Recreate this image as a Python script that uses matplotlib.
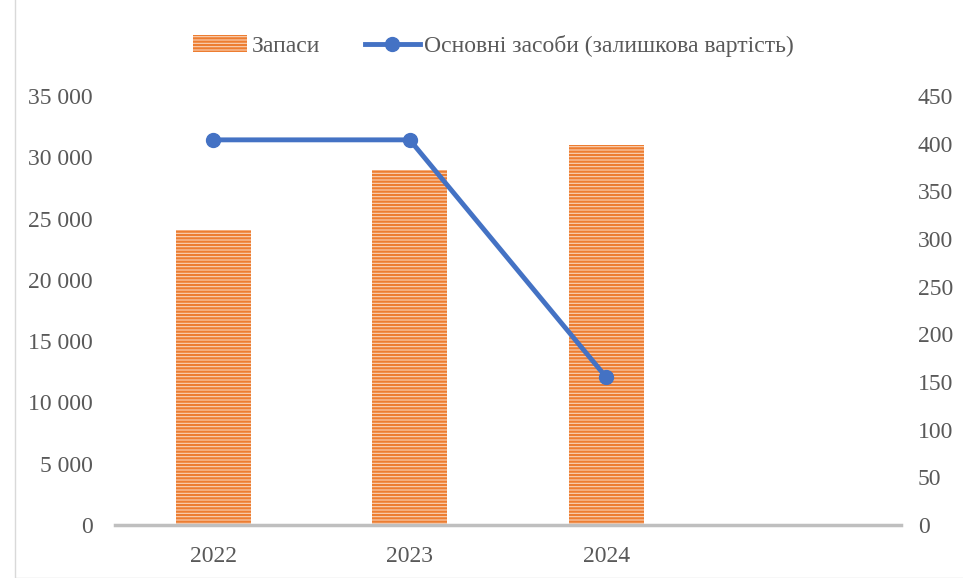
import matplotlib.pyplot as plt
import numpy as np

plt.rcParams['font.family'] = ['Liberation Serif', 'DejaVu Serif']
plt.rcParams['hatch.linewidth'] = 1.6

years = ['2022', '2023', '2024', '']
zapasy = [24100, 29000, 31000]
osnovni = [404, 404, 155]

text_col = '#595959'
orange = '#ED7D31'
blue = '#4472C4'

fig = plt.figure(figsize=(9.63, 5.78), dpi=100)
ax = fig.add_axes([115/963, 1-525/578, (901-115)/963, (525-96)/578])
ax2 = ax.twinx()

x = np.arange(len(years))
bars = ax.bar(x[:len(zapasy)], zapasy, width=0.38, color='#FAD3B8',
              edgecolor=orange, hatch='-----', linewidth=0, label='Запаси')
ax.set_xlim(-0.5, len(years) - 0.5)
ax.set_ylim(0, 35000)
ax.set_yticks(np.arange(0, 35001, 5000))
ax.set_yticklabels([f'{v:,}'.replace(',', ' ') for v in range(0, 35001, 5000)])
ax.set_xticks(x)
ax.set_xticklabels(years)

ax2.plot(x[:len(osnovni)], osnovni, color=blue, lw=3.5, marker='o', ms=10,
         label='Основні засоби (залишкова вартість)')
ax2.set_ylim(0, 450)
ax2.set_yticks(np.arange(0, 451, 50))

for a in (ax, ax2):
    for s in a.spines.values():
        s.set_visible(False)
    a.tick_params(length=0, labelsize=17, colors=text_col)
ax.tick_params(axis='y', pad=16)
ax2.tick_params(axis='y', pad=12)
ax.tick_params(axis='x', pad=15)
ax.spines['bottom'].set_visible(True)
ax.spines['bottom'].set_color('#BFBFBF')
ax.spines['bottom'].set_linewidth(2.5)

h1, l1 = ax.get_legend_handles_labels()
h2, l2 = ax2.get_legend_handles_labels()
fig.legend(h1 + h2, l1 + l2, loc='center', bbox_to_anchor=(0.5 + 12/963, 1-46/578),
           ncol=2, frameon=False, fontsize=17, labelcolor=text_col,
           handlelength=2.3, handletextpad=0.2, columnspacing=1.9)

fig.patches.append(plt.Rectangle((15/963, 0), 1, 1.2, transform=fig.transFigure,
                                 fill=False, edgecolor='#D9D9D9', lw=1))

fig.savefig('out.png', dpi=100)
